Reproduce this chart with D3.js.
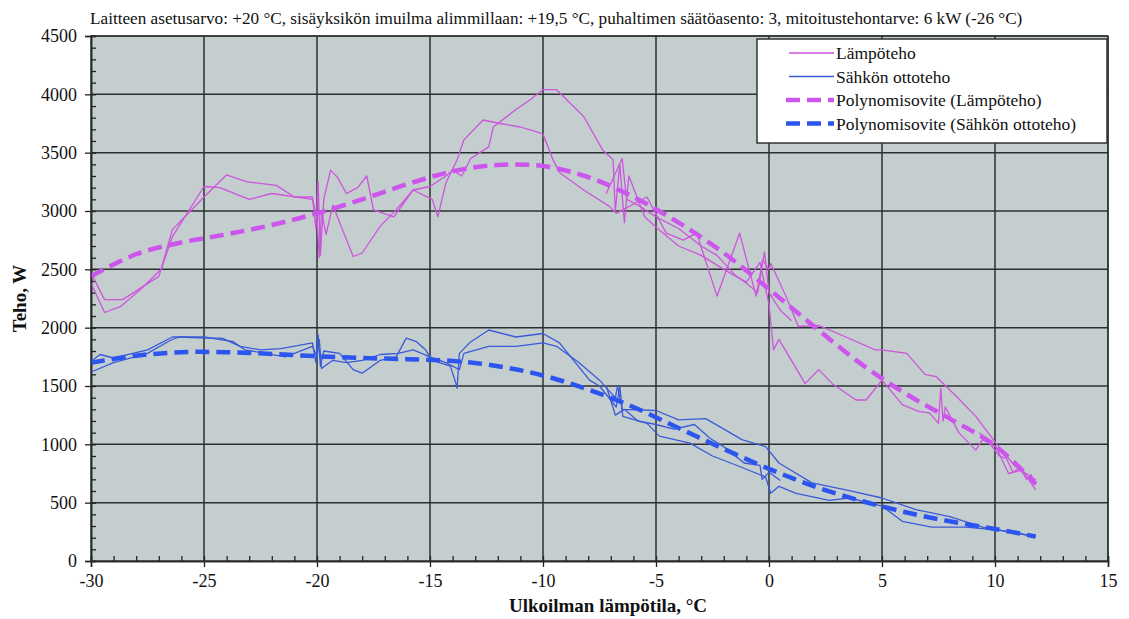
<!DOCTYPE html>
<html>
<head>
<meta charset="utf-8">
<script src="https://cdn.jsdelivr.net/npm/d3@7/dist/d3.min.js"></script>
<style>
  body { margin: 0; background: #fff; }
  svg text { font-family: "Liberation Serif", "Times New Roman", serif; fill: #111; }
</style>
</head>
<body>
<svg id="chart" width="1129" height="619"></svg>
<script>
// measured heat output (W) vs outdoor temperature, several runs
var heatRunA = [[-30,2380],[-29.4,2130],[-28.7,2180],[-27.8,2330],[-26.9,2500],[-26.4,2840],[-25,3120],[-24,3310],[-23.1,3250],[-21.8,3220],[-21,3120],[-20.2,3120],[-20.05,2850],[-19.95,3250],[-19.85,2620],[-19.7,3100],[-19.4,3350],[-19.1,3290],[-18.7,3150],[-18.2,3200],[-17.8,3300],[-17.5,3010],[-16.6,2950],[-15.75,3180],[-14.9,3100],[-14.65,2950],[-14.3,3240],[-13.8,3440],[-13.5,3610],[-12.65,3780],[-11.9,3750],[-11,3720],[-10.3,3680],[-10,3660],[-9.56,3440],[-9.27,3330],[-8.2,3180],[-7.06,3040],[-6.76,2980],[-5.4,3120],[-4.55,2810],[-3.8,2750],[-3.2,2810],[-2.3,2270],[-1.3,2810],[-0.57,2270],[-0.28,2580],[0,2500],[0.08,2550],[0.75,2270],[1.3,2010],[2.2,2020],[3.4,1920],[4.7,1810],[5,1810],[6.1,1780],[6.9,1600],[7.4,1580],[8.3,1410],[9.15,1240],[10.04,1010],[10.9,810],[11.8,695]];
var heatRunB = [[-30,2470],[-29.4,2240],[-28.6,2240],[-27,2440],[-26.4,2780],[-25,3210],[-24.3,3200],[-23,3100],[-22,3150],[-20.2,3100],[-20,2950],[-19.9,2600],[-19.8,3000],[-19.6,2800],[-19.3,3050],[-18.4,2610],[-18,2640],[-17.2,2870],[-16.5,3010],[-15.75,3180],[-15,3210],[-14.3,3300],[-14,3350],[-13.6,3300],[-13.2,3450],[-12.4,3550],[-12.2,3720],[-11.2,3870],[-10.6,3950],[-10,4040],[-9.4,4040],[-8.2,3810],[-7.35,3520],[-6.9,3440],[-6.8,3000],[-6.6,3400],[-6.4,2900],[-6.2,3300],[-5.5,2950],[-5,2860],[-4,2700],[-3,2620],[-2,2500],[-1,2390],[-0.4,2560],[0,2200],[0.2,1810],[0.44,1900],[1.6,1520],[2.2,1640],[2.8,1520],[3.85,1380],[4.3,1380],[5,1550],[5.9,1340],[6.65,1280],[7.1,1270],[7.5,1180],[7.6,1480],[7.7,1200],[7.8,1320],[8.4,1100],[9.15,950],[9.45,1040],[10.04,980],[10.6,750],[11.2,780],[11.8,610]];
var heatRunC = [[-7.2,3150],[-6.5,3450],[-6.3,3100],[-5.8,3050],[-5,2950],[-4,2850],[-3,2700],[-2.3,2620],[-1.5,2450],[-1,2380],[-0.5,2300],[-0.2,2650],[0,2300],[0.5,2150],[1,2060]];
var heatRunD = [[9.3,1100],[9.8,1000],[10.2,900],[10.5,880],[10.8,760],[11.1,800],[11.4,700],[11.6,740],[11.8,650]];

// measured electric input power (W)
var elecRunA = [[-30,1620],[-29,1700],[-27.5,1780],[-26.5,1890],[-26.1,1920],[-24.9,1910],[-24.2,1910],[-23.4,1840],[-22.5,1810],[-21.6,1820],[-20.2,1870],[-20.05,1700],[-19.95,1940],[-19.85,1670],[-19.7,1800],[-19,1780],[-18.4,1640],[-18,1610],[-17.2,1720],[-16.5,1750],[-16.05,1910],[-15.6,1880],[-15.2,1810],[-14.9,1720],[-14.1,1670],[-13.85,1520],[-13.8,1480],[-13.7,1780],[-13.25,1870],[-12.4,1980],[-11.2,1920],[-10,1950],[-9.27,1870],[-7.94,1550],[-7.5,1500],[-6.76,1320],[-6.6,1500],[-6.47,1240],[-5.4,1180],[-4.85,1070],[-3.5,1010],[-2.5,900],[-1.3,810],[-0.15,720],[0.08,580],[0.44,640],[1.2,580],[2.67,520],[3.55,540],[5,470],[5.9,340],[7.2,290],[8.7,290],[10.2,265],[11.8,210]];
var elecRunB = [[-30,1710],[-29.6,1770],[-29,1740],[-27.5,1810],[-26.4,1920],[-25,1920],[-23.7,1880],[-23.2,1810],[-22.3,1780],[-21.4,1750],[-20.2,1840],[-20,1750],[-19.9,1900],[-19.8,1650],[-19.3,1720],[-18.7,1700],[-18,1720],[-17.2,1770],[-16.4,1780],[-15.75,1810],[-15,1750],[-14.3,1700],[-13.7,1640],[-13.5,1780],[-12.4,1840],[-11.2,1840],[-10,1870],[-9.4,1840],[-8.4,1700],[-7.5,1550],[-6.8,1400],[-6.7,1500],[-6.5,1300],[-5,1290],[-4,1210],[-2.8,1220],[-1.9,1120],[-1.2,1040],[-0.15,980],[0.44,840],[1.9,670],[3.4,610],[5,540],[6.5,440],[8,380],[9.45,290],[10.9,240],[11.8,210]];
var elecRunC = [[-7.2,1500],[-6.8,1250],[-6.4,1300],[-5.8,1200],[-5,1170],[-4.2,1130],[-3.3,1170],[-2.6,1050],[-2,980],[-1.1,840],[-0.4,820],[-0.3,700],[0,760],[0.5,690]];

// polynomial fits
var fitTemps = [-30,-28,-26,-24,-22,-20,-18,-16,-14,-12,-10,-8,-6,-4,-2,0,2,4,6,8,10,11.8];
var heatFitW = [2440,2630,2730,2800,2880,2980,3100,3230,3340,3395,3385,3290,3120,2900,2640,2330,2010,1700,1440,1220,990,660];
var elecFitW = [1700,1760,1790,1790,1775,1755,1740,1730,1715,1670,1590,1470,1320,1140,960,790,640,520,420,340,275,210];

var xTicks = [-30,-25,-20,-15,-10,-5,0,5,10,15];
var yTicks = [0,500,1000,1500,2000,2500,3000,3500,4000,4500];

var titleText = "Laitteen asetusarvo: +20 °C, sisäyksikön imuilma alimmillaan: +19,5 °C, puhaltimen säätöasento: 3, mitoitustehontarve: 6 kW (-26 °C)";
var legendNames = ["Lämpöteho", "Sähkön ottoteho", "Polynomisovite (Lämpöteho)", "Polynomisovite (Sähkön ottoteho)"];

var heatColor = "#cc55dd", elecColor = "#3a5ad8";
var heatFitColor = "#cc55ee", elecFitColor = "#2b55ee";

var svg = d3.select("#chart");
var pLeft = 91, pRight = 1108, pTop = 36, pBottom = 561;

var x = d3.scaleLinear().domain([-30, 15]).range([pLeft, pRight]);
var y = d3.scaleLinear().domain([0, 4500]).range([pBottom, pTop]);

svg.append("rect")
  .attr("x", pLeft).attr("y", pTop)
  .attr("width", pRight - pLeft).attr("height", pBottom - pTop)
  .attr("fill", "#c5cece");

// grid
svg.append("g").selectAll("line").data(yTicks.slice(1)).enter().append("line")
  .attr("x1", pLeft).attr("x2", pRight)
  .attr("y1", function(d){ return y(d); }).attr("y2", function(d){ return y(d); })
  .attr("stroke", "#2b2f2f").attr("stroke-width", 1.5);
svg.append("g").selectAll("line").data(xTicks.slice(1)).enter().append("line")
  .attr("y1", pTop).attr("y2", pBottom)
  .attr("x1", function(d){ return x(d); }).attr("x2", function(d){ return x(d); })
  .attr("stroke", "#2b2f2f").attr("stroke-width", 1.5);

// axes
var plain = function(d){ return String(d); };
var yAxis = svg.append("g").attr("transform", "translate(" + pLeft + ",0)")
  .call(d3.axisLeft(y).tickValues(yTicks).tickSize(6).tickPadding(8).tickFormat(plain));
var yMinor = svg.append("g").attr("transform", "translate(" + pLeft + ",0)")
  .call(d3.axisRight(y).tickValues(d3.range(0, 4501, 100)).tickSize(5).tickFormat(""));
var xAxis = svg.append("g").attr("transform", "translate(0," + pBottom + ")")
  .call(d3.axisBottom(x).tickValues(xTicks).tickSize(6).tickPadding(7).tickFormat(plain));
var xMinor = svg.append("g").attr("transform", "translate(0," + pBottom + ")")
  .call(d3.axisTop(x).tickValues(d3.range(-30, 15.01, 1)).tickSize(5).tickFormat(""));

[yAxis, yMinor, xAxis, xMinor].forEach(function(g){
  g.select(".domain").attr("stroke", "#222").attr("stroke-width", 1.5);
  g.selectAll(".tick line").attr("stroke", "#222").attr("stroke-width", 1.3);
  g.selectAll(".tick text").style("font-size", "18px").style("font-family", "Liberation Serif").attr("fill", "#111");
});

var line = d3.line()
  .x(function(d){ return x(d[0]); })
  .y(function(d){ return y(d[1]); });

var fitLine = d3.line()
  .x(function(d){ return x(d[0]); })
  .y(function(d){ return y(d[1]); })
  .curve(d3.curveCatmullRom);

var plot = svg.append("g");

[heatRunA, heatRunB, heatRunC, heatRunD].forEach(function(run){
  plot.append("path").datum(run).attr("d", line)
    .attr("fill", "none").attr("stroke", heatColor).attr("stroke-width", 1.3)
    .attr("stroke-linejoin", "round");
});
[elecRunA, elecRunB, elecRunC].forEach(function(run){
  plot.append("path").datum(run).attr("d", line)
    .attr("fill", "none").attr("stroke", elecColor).attr("stroke-width", 1.3)
    .attr("stroke-linejoin", "round");
});

var heatFit = fitTemps.map(function(t, i){ return [t, heatFitW[i]]; });
var elecFit = fitTemps.map(function(t, i){ return [t, elecFitW[i]]; });

plot.append("path").datum(heatFit).attr("d", fitLine)
  .attr("fill", "none").attr("stroke", heatFitColor).attr("stroke-width", 4.5)
  .attr("stroke-dasharray", "14,7");
plot.append("path").datum(elecFit).attr("d", fitLine)
  .attr("fill", "none").attr("stroke", elecFitColor).attr("stroke-width", 4.5)
  .attr("stroke-dasharray", "14,7");

// frame
svg.append("rect")
  .attr("x", pLeft).attr("y", pTop)
  .attr("width", pRight - pLeft).attr("height", pBottom - pTop)
  .attr("fill", "none").attr("stroke", "#2b2f2f").attr("stroke-width", 1.2);

// title + axis labels
svg.append("text").attr("x", 90).attr("y", 24)
  .style("font-size", "17.2px").text(titleText);

svg.append("text")
  .attr("transform", "translate(26," + ((pTop + pBottom) / 2) + ") rotate(-90)")
  .attr("text-anchor", "middle").style("font-size", "19px").style("font-weight", "bold")
  .text("Teho, W");

svg.append("text").attr("x", 608).attr("y", 612)
  .attr("text-anchor", "middle").style("font-size", "19px").style("font-weight", "bold")
  .text("Ulkoilman lämpötila, °C");

// legend
var legend = svg.append("g");
legend.append("rect")
  .attr("x", 757).attr("y", 39).attr("width", 350).attr("height", 104)
  .attr("fill", "#fff").attr("stroke", "#333").attr("stroke-width", 1.5);

var legendStyles = [
  { color: heatColor, width: 1.3, dash: null },
  { color: elecColor, width: 1.3, dash: null },
  { color: heatFitColor, width: 4.5, dash: "14,7" },
  { color: elecFitColor, width: 4.5, dash: "14,7" }
];

legendNames.forEach(function(name, i){
  var ly = 53 + i * 23.5;
  var st = legendStyles[i];
  legend.append("line")
    .attr("x1", st.dash ? 786 : 789).attr("x2", 834)
    .attr("y1", ly).attr("y2", ly)
    .attr("stroke", st.color).attr("stroke-width", st.width)
    .attr("stroke-dasharray", st.dash);
  legend.append("text").attr("x", 836).attr("y", ly + 6)
    .style("font-size", "17.5px").text(name);
});
</script>
</body>
</html>
